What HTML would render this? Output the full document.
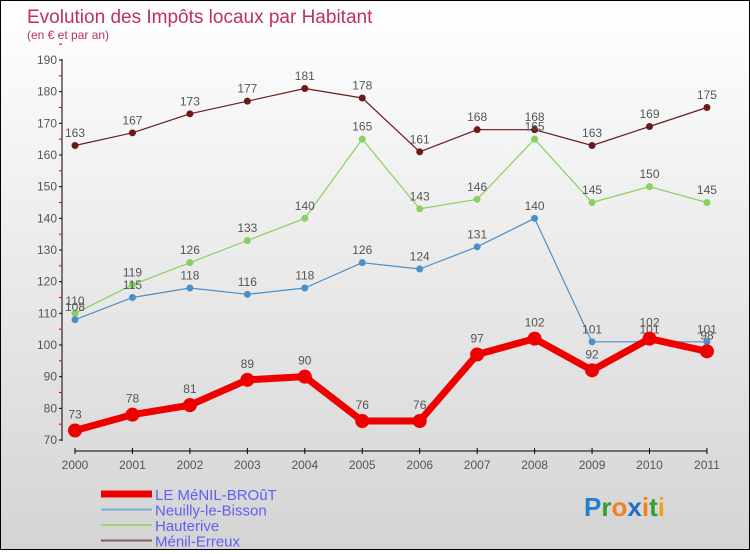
<!DOCTYPE html>
<html><head><meta charset="utf-8"><style>
body{margin:0}
#c{width:748px;height:548px;border:1px solid #000;background:linear-gradient(#fff,#d4d4d4);position:relative;font-family:"Liberation Sans",sans-serif}
</style></head><body>
<div id="c">
<svg id="s" width="748" height="548">
<text x="26" y="22" font-size="19" fill="#c0305f">Evolution des Impôts locaux par Habitant</text>
<text x="26" y="38" font-size="12" fill="#c0305f">(en € et par an)</text>
<g id="g"></g>
</svg>
</div>
<script>
const years=[2000,2001,2002,2003,2004,2005,2006,2007,2008,2009,2010,2011];
const yTicks=[70,80,90,100,110,120,130,140,150,160,170,180,190];
const leMenil=[73,78,81,89,90,76,76,97,102,92,102,98];
const neuilly=[108,115,118,116,118,126,124,131,140,101,101,101];
const hauterive=[110,119,126,133,140,165,143,146,165,145,150,145];
const menilErreux=[163,167,173,177,181,178,161,168,168,163,169,175];
const NS="http://www.w3.org/2000/svg";
const g=document.getElementById('g');
const X=i=>74+i*57.45;
const Y=v=>439-(v-70)*3.1667;
function el(t,a,p){const e=document.createElementNS(NS,t);for(const k in a)e.setAttribute(k,a[k]);(p||g).appendChild(e);return e;}
let ax=el('line',{x1:61,y1:58,x2:61,y2:440,stroke:'#000'});


yTicks.forEach(v=>{
 el('line',{x1:58,x2:61,y1:Y(v),y2:Y(v),stroke:'#000'});
 el('line',{x1:58,x2:61,y1:Y(v+5),y2:Y(v+5),stroke:'#d00'});
 const t=el('text',{x:56,y:Y(v)+4,'text-anchor':'end','font-size':12,fill:'#555'});t.textContent=v;
 
 
});
let xa=el('line',{x1:X(0),y1:450,x2:X(11),y2:450,stroke:'#000'});


years.forEach((y,i)=>{
 el('line',{x1:X(i),x2:X(i),y1:447,y2:453,stroke:'#000'});
 const t=el('text',{x:X(i),y:468,'text-anchor':'middle','font-size':12,fill:'#555'});t.textContent=y;
 
 
});
function series(d,col,w,r,name){
 const sg=el('g',{});
 
 
 el('polyline',{points:d.map((v,i)=>X(i)+','+Y(v)).join(' '),fill:'none',stroke:col,'stroke-width':w,'stroke-linejoin':'round'},sg);
 d.forEach((v,i)=>{
  const c=el('circle',{cx:X(i),cy:Y(v),r:r,fill:col},sg);
  
  
  const t=el('text',{x:X(i),y:Y(v)-(r+5),'text-anchor':'middle','font-size':12,fill:'#555'},sg);t.textContent=v;
  
  
 });
}
series(menilErreux,'#6b1a1a',1.2,3.5,'series-menil-erreux');
series(hauterive,'#88d060',1.2,3.5,'series-hauterive');
series(neuilly,'#4a90c8',1.2,3.5,'series-neuilly');
series(leMenil,'#ee0000',7,7,'series-le-menil-brout');
const leg=[['LE MéNIL-BROûT','#ee0000',7],['Neuilly-le-Bisson','#7ab0d8',2],['Hauterive','#98d878',2],['Ménil-Erreux','#8a5a5a',2]];
leg.forEach((l,i)=>{
 const y=493+i*15.5;
 const lg=el('g',{});
 
 
 el('line',{x1:100,x2:151,y1:y,y2:y,stroke:l[1],'stroke-width':l[2]},lg);
 const t=el('text',{x:154,y:y+6,'font-size':15,fill:'#6060f0'},lg);t.textContent=l[0];
});
const p=el('text',{x:583,y:515,'font-size':26,'font-weight':'bold'});


[['P','#2080d0'],['r','#30a030'],['o','#f08020'],['x','#2070c0'],['i','#f08020'],['t','#30a030'],['i','#f0a020']].forEach(c=>{const s=el('tspan',{fill:c[1]},p);s.textContent=c[0];});
</script>
</body></html>
